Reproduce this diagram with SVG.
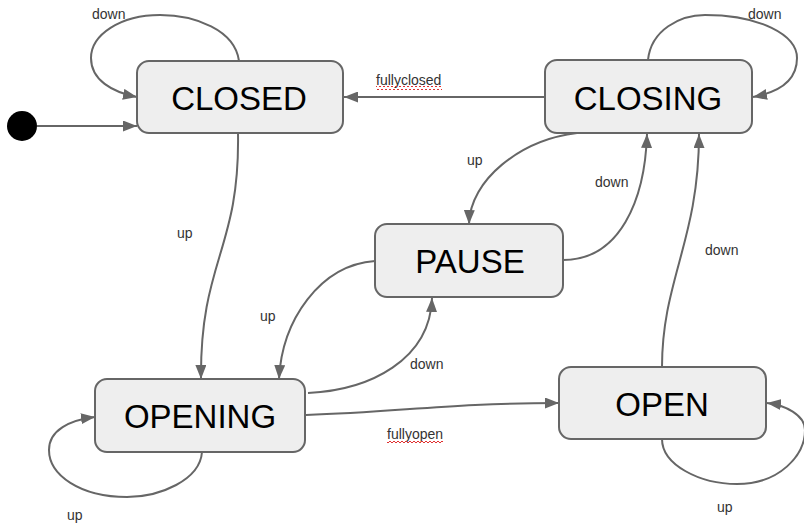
<svg xmlns="http://www.w3.org/2000/svg" width="804" height="527" viewBox="0 0 804 527">
<style>
.node rect{fill:#eeeeee;stroke:#666666;stroke-width:2}
.node text{font-family:"Liberation Sans",Arial,sans-serif;font-size:33px;fill:#000;text-anchor:middle}
.edge{fill:none;stroke:#666666;stroke-width:2;marker-end:url(#arr)}
.lbl{font-family:"Liberation Sans",Arial,sans-serif;font-size:14px;fill:#333333}
</style>
<defs>
<marker id="arr" markerUnits="userSpaceOnUse" markerWidth="15" markerHeight="11" refX="14" refY="5.5" orient="auto">
<path d="M0,0 L14,5.5 L0,11 z" fill="#666666"/>
</marker>
<pattern id="squig" patternUnits="userSpaceOnUse" width="4" height="4">
<path d="M0,3 L2,1 L4,3" fill="none" stroke="#e03030" stroke-width="1"/>
</pattern>
</defs>
<rect width="804" height="527" fill="#ffffff"/>
<g id="connectors">
<path class="edge" d="M37,126 L137,126"/>
<path class="edge" d="M239,61 C235,30 195,15 160,15 C120,15 91,35 91,58 C91,80 112,92 137,97"/>
<path class="edge" d="M648,60 C651,30 680,15 705,15 C760,15 797,35 797,58 C797,80 780,92 753,97"/>
<path class="edge" d="M545,97 L344,97"/>
<path class="edge" d="M577,133 C520,140 470,180 469,224"/>
<path class="edge" d="M563,260 C620,260 645,200 647,134"/>
<path class="edge" d="M662,367 C662,280 699,240 699,134"/>
<path class="edge" d="M375,261 C320,265 282,320 279,379"/>
<path class="edge" d="M308,393 C370,390 430,360 432,298"/>
<path class="edge" d="M238,133 C240,250 200,260 201,379"/>
<path class="edge" d="M306,415 C400,412 450,403 559,403"/>
<path class="edge" d="M202,452 C200,480 160,497 127,497 C80,497 49,475 49,450 C49,430 70,420 95,417"/>
<path class="edge" d="M662,439 C662,465 700,484 737,484 C780,484 805,455 805,430 C805,415 785,405 767,403"/>
<text class="lbl" x="92" y="19">down</text>
<text class="lbl" x="748" y="19">down</text>
<text class="lbl" x="376" y="85">fullyclosed</text>
<rect x="376" y="86" width="66" height="4" fill="url(#squig)"/>
<text class="lbl" x="467" y="165">up</text>
<text class="lbl" x="595" y="187">down</text>
<text class="lbl" x="705" y="255">down</text>
<text class="lbl" x="177" y="238">up</text>
<text class="lbl" x="260" y="321">up</text>
<text class="lbl" x="410" y="369">down</text>
<text class="lbl" x="387" y="439">fullyopen</text>
<rect x="387" y="440" width="56" height="4" fill="url(#squig)"/>
<text class="lbl" x="67" y="520">up</text>
<text class="lbl" x="717" y="512">up</text>
</g>
<g id="initial"><circle cx="22" cy="126" r="15" fill="#000000"/></g>
<g id="closed" class="node"><rect x="137" y="61" width="206" height="72" rx="12"/><text x="239" y="110">CLOSED</text></g>
<g id="closing" class="node"><rect x="545" y="60" width="207" height="73" rx="12"/><text x="648" y="110">CLOSING</text></g>
<g id="pause" class="node"><rect x="375" y="224" width="188" height="73" rx="12"/><text x="470" y="273">PAUSE</text></g>
<g id="opening" class="node"><rect x="95" y="379" width="210" height="73" rx="12"/><text x="200" y="428">OPENING</text></g>
<g id="open" class="node"><rect x="559" y="367" width="207" height="72" rx="12"/><text x="662" y="416">OPEN</text></g>
</svg>
